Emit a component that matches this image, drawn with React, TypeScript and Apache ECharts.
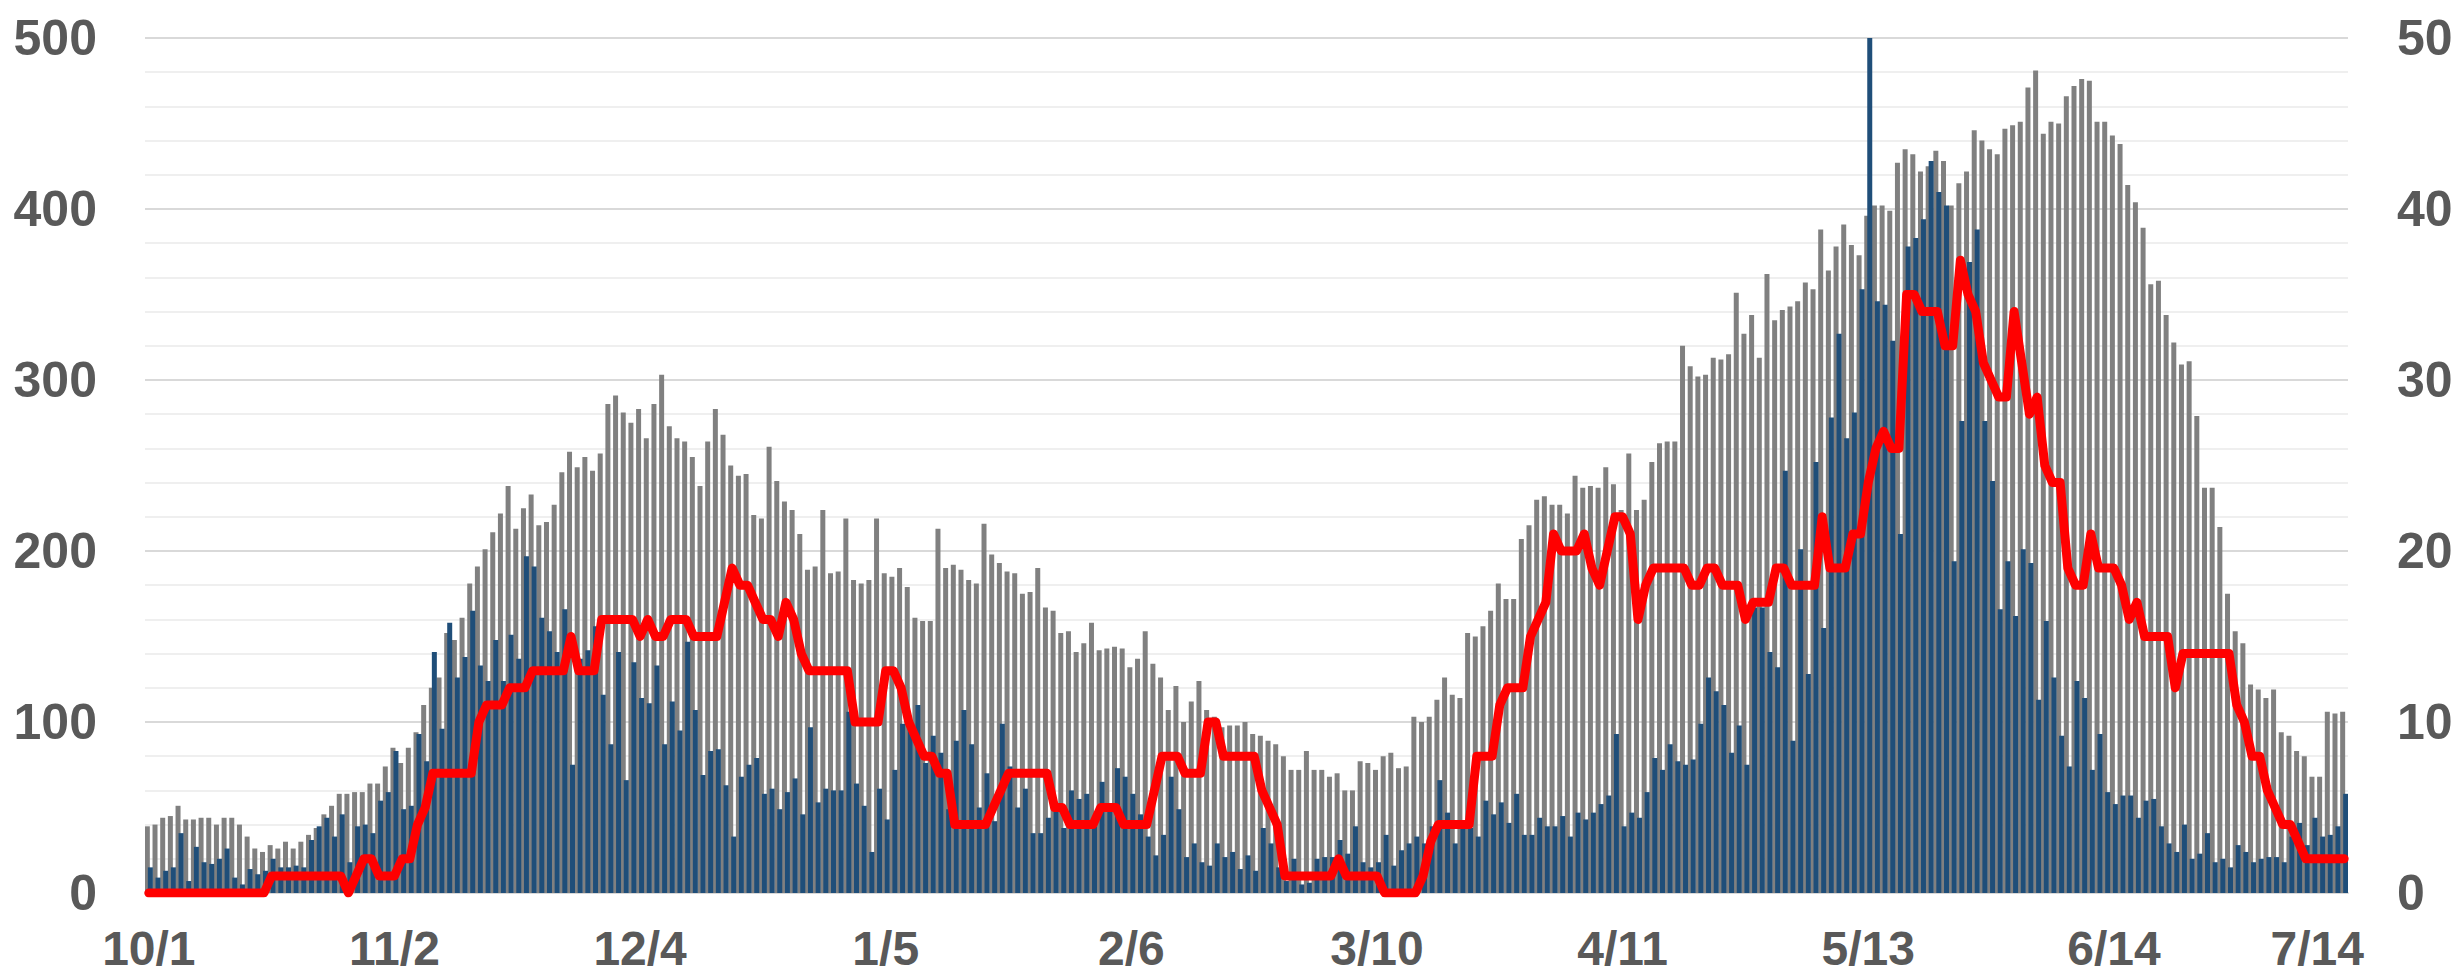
import React, { useEffect, useRef } from "react";
import * as echarts from "echarts";

// month, number of days shown (10/1 .. 7/14)
const monthSpans: [number, number][] = [
  [10, 31], [11, 30], [12, 31], [1, 31], [2, 28], [3, 31], [4, 30], [5, 31], [6, 30], [7, 14],
];
const categories: string[] = monthSpans.flatMap(([m, n]) =>
  Array.from({ length: n }, (_, d) => `${m}/${d + 1}`)
);

const grayBars: number[] = [
  39, 40, 44, 45, 51, 43, 43, 44, 44, 40, 44, 44, 40, 33, 26, 24, 28, 26, 30, 26, 30, 34, 38, 46, 51, 58, 58, 59, 59, 64, 64, 74, 85, 76, 85, 94,
  110, 120, 126, 152, 148, 161, 181, 191, 201, 211, 222, 238, 213, 225, 233, 215, 217, 227, 246, 258, 249, 255, 247, 257, 286, 291, 281, 275, 283, 266, 286, 303, 273, 266, 264, 255,
  238, 264, 283, 268, 250, 244, 245, 221, 219, 261, 241, 229, 224, 210, 189, 191, 224, 187, 188, 219, 183, 181, 183, 219, 187, 185, 190, 179, 161, 159, 159, 213, 190, 192, 189, 183, 181,
  216, 198, 193, 188, 187, 175, 176, 190, 167, 165, 152, 153, 141, 146, 158, 142, 143, 144, 143, 132, 137, 153, 134, 126, 107, 121, 100, 112, 124, 107, 103, 97, 98, 98, 100, 93,
  92, 89, 87, 80, 72, 72, 83, 72, 72, 68, 70, 60, 60, 77, 76, 72, 80, 82, 73, 74, 103, 100, 103, 113, 126, 116, 114, 152, 150, 156, 165, 181, 172, 172, 207, 215, 230,
  232, 227, 227, 222, 244, 237, 238, 237, 249, 239, 224, 257, 224, 230, 252, 263, 264, 264, 320, 308, 302, 303, 313, 312, 315, 351, 327, 338, 313, 362, 335, 341, 343, 346, 357, 353, 388,
  364, 378, 391, 379, 373, 396, 402, 402, 399, 427, 435, 432, 422, 425, 434, 428, 402, 415, 422, 446, 440, 435, 432, 447, 449, 451, 471, 481, 444, 451, 450, 466, 472, 476, 475, 451,
  451, 443, 438, 414, 404, 389, 356, 358, 338, 322, 309, 311, 279, 237, 237, 214, 175, 153, 146, 122, 119, 114, 119, 94, 92, 83, 80, 68, 68, 106, 105, 106,
];

const blueBars: number[] = [
  15, 9, 13, 15, 35, 7, 27, 18, 17, 20, 26, 9, 5, 14, 11, 13, 20, 15, 15, 16, 15, 31, 39, 44, 33, 46, 18, 39, 40, 35, 54, 59, 83, 49, 51, 93,
  77, 141, 96, 158, 126, 138, 165, 133, 124, 148, 124, 151, 137, 197, 191, 161, 153, 141, 166, 75, 137, 142, 156, 116, 87, 141, 66, 135, 114, 111, 133, 87, 112, 95, 147, 107,
  69, 83, 84, 63, 33, 68, 75, 79, 58, 61, 49, 59, 67, 46, 97, 53, 61, 60, 60, 106, 64, 51, 24, 61, 43, 72, 99, 97, 110, 76, 92, 82, 49, 89, 107, 87, 50,
  70, 42, 99, 74, 50, 61, 35, 35, 44, 49, 38, 60, 55, 58, 39, 65, 52, 73, 68, 58, 46, 33, 22, 34, 68, 49, 21, 29, 18, 16, 29, 21, 24, 14, 22, 13,
  38, 29, 15, 7, 20, 5, 6, 20, 21, 21, 31, 23, 39, 18, 15, 18, 34, 16, 25, 29, 33, 29, 39, 66, 47, 29, 38, 38, 33, 54, 46, 53, 41, 58, 34, 34, 44,
  39, 39, 45, 33, 47, 43, 47, 52, 57, 93, 39, 47, 44, 59, 79, 72, 87, 77, 75, 78, 99, 126, 118, 110, 82, 98, 75, 167, 167, 141, 132, 247, 89, 201, 128, 252, 155,
  278, 327, 266, 281, 353, 500, 346, 344, 323, 210, 378, 383, 394, 428, 410, 402, 194, 276, 369, 388, 276, 241, 166, 194, 162, 201, 193, 113, 159, 126, 92, 74, 124, 114, 72, 93,
  59, 52, 57, 57, 44, 54, 55, 39, 29, 24, 40, 20, 23, 35, 18, 20, 15, 28, 24, 18, 20, 21, 21, 18, 33, 41, 28, 44, 33, 34, 39, 58,
];

const redLine: number[] = [
  0, 0, 0, 0, 0, 0, 0, 0, 0, 0, 0, 0, 0, 0, 0, 0, 1, 1, 1, 1, 1, 1, 1, 1, 1, 1, 0, 1, 2, 2, 1, 1, 1, 2, 2, 4,
  5, 7, 7, 7, 7, 7, 7, 10, 11, 11, 11, 12, 12, 12, 13, 13, 13, 13, 13, 15, 13, 13, 13, 16, 16, 16, 16, 16, 15, 16, 15, 15, 16, 16, 16, 15,
  15, 15, 15, 17, 19, 18, 18, 17, 16, 16, 15, 17, 16, 14, 13, 13, 13, 13, 13, 13, 10, 10, 10, 10, 13, 13, 12, 10, 9, 8, 8, 7, 7, 4, 4, 4, 4,
  4, 5, 6, 7, 7, 7, 7, 7, 7, 5, 5, 4, 4, 4, 4, 5, 5, 5, 4, 4, 4, 4, 6, 8, 8, 8, 7, 7, 7, 10, 10, 8, 8, 8, 8, 8,
  6, 5, 4, 1, 1, 1, 1, 1, 1, 1, 2, 1, 1, 1, 1, 1, 0, 0, 0, 0, 0, 1, 3, 4, 4, 4, 4, 4, 8, 8, 8, 11, 12, 12, 12, 15, 16,
  17, 21, 20, 20, 20, 21, 19, 18, 20, 22, 22, 21, 16, 18, 19, 19, 19, 19, 19, 18, 18, 19, 19, 18, 18, 18, 16, 17, 17, 17, 19, 19, 18, 18, 18, 18, 22,
  19, 19, 19, 21, 21, 24, 26, 27, 26, 26, 35, 35, 34, 34, 34, 32, 32, 37, 35, 34, 31, 30, 29, 29, 34, 31, 28, 29, 25, 24, 24, 19, 18, 18, 21, 19,
  19, 19, 18, 16, 17, 15, 15, 15, 15, 12, 14, 14, 14, 14, 14, 14, 14, 11, 10, 8, 8, 6, 5, 4, 4, 3, 2, 2, 2, 2, 2, 2,
];

const labelStep = 32;
const lastIndex = categories.length - 1;

const FONT = "'Liberation Sans', Arial, sans-serif";
const TEXT_COLOR = "#595959";

export default function App() {
  const ref = useRef<HTMLDivElement>(null);

  useEffect(() => {
    if (!ref.current) return;
    const chart = echarts.init(ref.current, undefined, { renderer: "svg" });
    const labelStyle = {
      fontFamily: FONT,
      fontSize: 50,
      fontWeight: "bold" as const,
      color: TEXT_COLOR,
    };
    const xLabelStyle = { ...labelStyle, fontSize: 48 };
    chart.setOption({
      animation: false,
      backgroundColor: "#ffffff",
      textStyle: { fontFamily: FONT },
      grid: { left: 145, right: 108, top: 38, bottom: 86, containLabel: false },
      xAxis: {
        type: "category",
        data: categories,
        boundaryGap: true,
        axisLine: { show: true, lineStyle: { color: "#D9D9D9", width: 2 } },
        axisTick: { show: false },
        axisLabel: {
          ...xLabelStyle,
          margin: 31,
          interval: (index: number) => index % labelStep === 0 || index === lastIndex,
          formatter: (value: string, index: number) =>
            index === lastIndex ? `{last|${value}}` : value,
          rich: {
            last: { ...xLabelStyle, padding: [0, 54, 0, 0] },
          },
        },
        splitLine: { show: false },
      },
      yAxis: [
        {
          type: "value",
          min: 0,
          max: 500,
          interval: 100,
          position: "left",
          axisLine: { show: false },
          axisTick: { show: false },
          axisLabel: { ...labelStyle, margin: 48 },
          splitLine: { show: true, lineStyle: { color: "#D9D9D9", width: 2 } },
          minorTick: { show: false, splitNumber: 5 },
          minorSplitLine: { show: true, lineStyle: { color: "#EFEFEF", width: 2 } },
        },
        {
          type: "value",
          min: 0,
          max: 50,
          interval: 10,
          position: "right",
          axisLine: { show: false },
          axisTick: { show: false },
          axisLabel: { ...labelStyle, margin: 49, align: "left" },
          splitLine: { show: false },
        },
      ],
      series: [
        {
          type: "bar",
          name: "gray",
          data: grayBars,
          yAxisIndex: 0,
          barWidth: 5,
          barGap: "-40%",
          itemStyle: { color: "#808080" },
        },
        {
          type: "bar",
          name: "blue",
          data: blueBars,
          yAxisIndex: 0,
          barWidth: 5,
          barGap: "-40%",
          itemStyle: { color: "#1F4E79" },
        },
        {
          type: "line",
          name: "red",
          data: redLine,
          yAxisIndex: 1,
          showSymbol: false,
          symbol: "none",
          z: 5,
          lineStyle: { color: "#FF0000", width: 9, join: "round", cap: "round" },
          itemStyle: { color: "#FF0000" },
        },
      ],
    });
    return () => chart.dispose();
  }, []);

  return (
    <div
      ref={ref}
      style={{ position: "fixed", left: 0, top: 0, width: 2456, height: 979, background: "#fff" }}
    />
  );
}
